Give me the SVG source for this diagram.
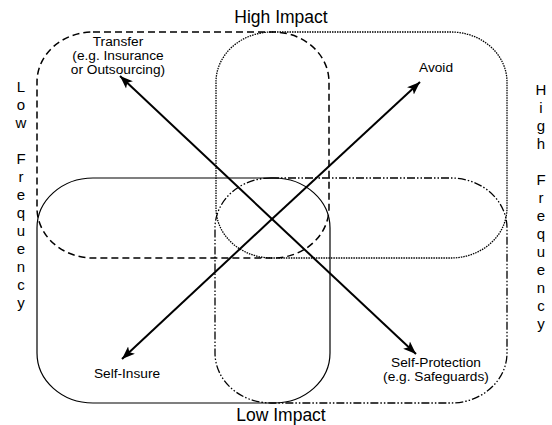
<svg xmlns="http://www.w3.org/2000/svg" width="552" height="425" viewBox="0 0 552 425">
<defs>
<style>
.box{fill:none;stroke:#000}
.dashed{stroke-width:1.5;stroke-dasharray:7 4}
.dotted{stroke-width:1.3;stroke-dasharray:1.5 1}
.solid{stroke-width:1.2}
.dashdot{stroke-width:1.3;stroke-dasharray:8 2 1.5 2 1.5 2}
.lbl{font-family:"Liberation Sans",Arial,sans-serif;font-size:13.7px;fill:#000;text-anchor:middle}
.axis{font-family:"Liberation Sans",Arial,sans-serif;font-size:17.5px;fill:#000;text-anchor:middle}
.vaxis{font-family:"Liberation Sans",Arial,sans-serif;font-size:15px;fill:#000;text-anchor:middle}
.arrow{stroke:#000;stroke-width:2;fill:none;marker-end:url(#ah)}
</style>
<marker id="ah" markerUnits="userSpaceOnUse" markerWidth="14" markerHeight="12" refX="13" refY="5" orient="auto" viewBox="0 0 14 10">
<path d="M0,0 L13,5 L0,10 L3,5 z" fill="#000"/>
</marker>
</defs>
<rect width="552" height="425" fill="#fff"/>

<g id="node-transfer">
<rect class="box dashed" x="37" y="32" width="292" height="226" rx="56" ry="50"/>
<text class="lbl" x="118" y="46">Transfer</text>
<text class="lbl" x="118" y="60">(e.g. Insurance</text>
<text class="lbl" x="118" y="74">or Outsourcing)</text>
</g>

<g id="node-avoid">
<rect class="box dotted" x="216" y="32" width="291" height="226" rx="56" ry="50"/>
<text class="lbl" x="436" y="72">Avoid</text>
</g>

<g id="node-self-insure">
<rect class="box solid" x="37" y="178" width="293" height="225" rx="56" ry="50"/>
<text class="lbl" x="127" y="378">Self-Insure</text>
</g>

<g id="node-self-protection">
<rect class="box dashdot" x="215" y="178" width="292" height="225" rx="56" ry="50"/>
<text class="lbl" x="436" y="367">Self-Protection</text>
<text class="lbl" x="436" y="381">(e.g. Safeguards)</text>
</g>

<g id="axis-labels">
<text class="axis" x="281" y="23">High Impact</text>
<text class="axis" x="281" y="421">Low Impact</text>
<text class="vaxis" x="21">
<tspan x="21" y="92">L</tspan><tspan x="21" y="110">o</tspan><tspan x="21" y="128">w</tspan><tspan x="21" y="164">F</tspan><tspan x="21" y="182">r</tspan><tspan x="21" y="200">e</tspan><tspan x="21" y="218">q</tspan><tspan x="21" y="236">u</tspan><tspan x="21" y="254">e</tspan><tspan x="21" y="272">n</tspan><tspan x="21" y="290">c</tspan><tspan x="21" y="308">y</tspan>
</text>
<text class="vaxis" x="541">
<tspan x="541" y="95">H</tspan><tspan x="541" y="113">i</tspan><tspan x="541" y="131">g</tspan><tspan x="541" y="149">h</tspan><tspan x="541" y="185">F</tspan><tspan x="541" y="203">r</tspan><tspan x="541" y="221">e</tspan><tspan x="541" y="239">q</tspan><tspan x="541" y="257">u</tspan><tspan x="541" y="275">e</tspan><tspan x="541" y="293">n</tspan><tspan x="541" y="311">c</tspan><tspan x="541" y="329">y</tspan>
</text>
</g>

<g id="connectors">
<line class="arrow" x1="272" y1="219" x2="120" y2="76"/>
<line class="arrow" x1="272" y1="219" x2="416" y2="354"/>
<line class="arrow" x1="272" y1="219" x2="420" y2="82"/>
<line class="arrow" x1="272" y1="219" x2="122" y2="359"/>
</g>
</svg>
